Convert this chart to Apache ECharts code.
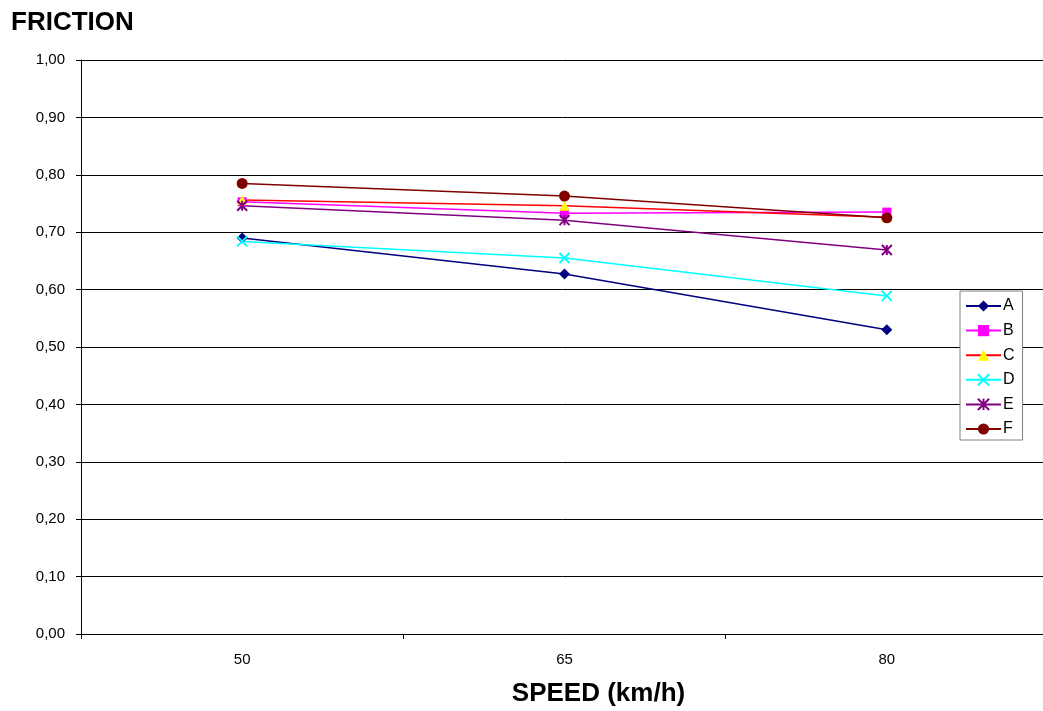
<!DOCTYPE html>
<html>
<head>
<meta charset="utf-8">
<style>
  html, body { margin: 0; padding: 0; background: #fff; overflow: hidden; }
  #chart { width: 1043px; height: 711px; }
</style>
<script src="https://cdn.jsdelivr.net/npm/echarts@6/dist/echarts.min.js"></script>
</head>
<body>
<div id="chart"></div>
<script>
// Friction coefficient measured at three speeds for six surfaces
const speeds = ['50', '65', '80'];
const seriesA = [0.69, 0.627, 0.53];
const seriesB = [0.753, 0.733, 0.735];
const seriesC = [0.756, 0.746, 0.726];
const seriesD = [0.684, 0.655, 0.589];
const seriesE = [0.746, 0.721, 0.669];
const seriesF = [0.785, 0.763, 0.725];
const seriesNames = ['A', 'B', 'C', 'D', 'E', 'F'];

const FONT = '"Liberation Sans", Arial, sans-serif';
const crossPath = 'path://M0,0L10,10M10,0L0,10';
const starPath = 'path://M0,0L10,10M10,0L0,10M5,0L5,10';

const styles = [
  { line: '#000080', fill: '#000080', symbol: 'diamond', size: 11 },
  { line: '#FF00FF', fill: '#FF00FF', symbol: 'rect', size: 9 },
  { line: '#FF0000', fill: '#FFFF00', symbol: 'triangle', size: 10 },
  { line: '#00FFFF', fill: 'none', stroke: '#00FFFF', symbol: crossPath, size: 10 },
  { line: '#800080', fill: 'none', stroke: '#800080', symbol: starPath, size: 10 },
  { line: '#800000', fill: '#800000', symbol: 'circle', size: 11 }
];
const values = [seriesA, seriesB, seriesC, seriesD, seriesE, seriesF];

const series = seriesNames.map((name, i) => {
  const s = styles[i];
  return {
    name: name,
    type: 'line',
    data: values[i],
    symbol: s.symbol,
    symbolSize: s.size,
    showAllSymbol: true,
    lineStyle: { color: s.line, width: 1.5 },
    itemStyle: {
      color: s.fill === 'none' ? 'rgba(0,0,0,0)' : s.fill,
      borderColor: s.stroke || s.fill,
      borderWidth: s.stroke ? 2 : 0
    },
    emphasis: { disabled: true },
    animation: false
  };
});

const chart = echarts.init(document.getElementById('chart'), null, { renderer: 'canvas' });
chart.setOption({
  backgroundColor: '#fff',
  animation: false,
  textStyle: { fontFamily: FONT },
  title: {
    text: 'FRICTION',
    left: 6,
    top: 5,
    textStyle: { fontFamily: FONT, fontSize: 26, fontWeight: 'bold', color: '#000' }
  },
  legend: {
    orient: 'vertical',
    left: 960,
    top: 291,
    padding: [7, 8, 3, 5],
    itemGap: 8.6,
    itemWidth: 35,
    itemHeight: 14,
    backgroundColor: '#fff',
    borderColor: '#808080',
    borderWidth: 1,
    borderRadius: 0,
    textStyle: { fontFamily: FONT, fontSize: 16, color: '#000', padding: [0, 0, 0, -3] },
    data: seriesNames
  },
  grid: {
    left: 81, width: 967, top: 60, bottom: 77,
    containLabel: false,
    outerBoundsMode: 'none'
  },
  xAxis: {
    type: 'category',
    data: speeds,
    boundaryGap: true,
    name: 'SPEED (km/h)',
    nameLocation: 'middle',
    nameGap: 47,
    nameTextStyle: {
      fontFamily: FONT, fontSize: 26, fontWeight: 'bold', color: '#000',
      padding: [0, 0, 0, 68]
    },
    axisLine: { lineStyle: { color: '#000', width: 1 } },
    axisTick: { show: true, length: 5, lineStyle: { color: '#000' } },
    axisLabel: { fontFamily: FONT, fontSize: 15, color: '#000', margin: 18 },
    splitLine: { show: false }
  },
  yAxis: {
    type: 'value',
    min: 0,
    max: 1,
    interval: 0.1,
    axisLine: { show: true, lineStyle: { color: '#000', width: 1 } },
    axisTick: { show: true, length: 5, lineStyle: { color: '#000' } },
    axisLabel: {
      fontFamily: FONT, fontSize: 15, color: '#000', margin: 16,
      formatter: v => v.toFixed(2).replace('.', ',')
    },
    splitLine: { show: true, lineStyle: { color: '#000', width: 1 } }
  },
  series: series
});
</script>
</body>
</html>
